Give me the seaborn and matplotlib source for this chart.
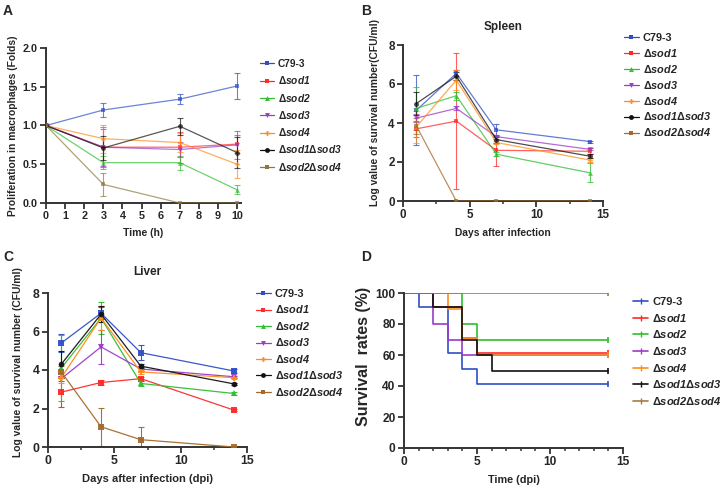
import numpy as np
import matplotlib
matplotlib.use("Agg")
import matplotlib.pyplot as plt
from matplotlib.lines import Line2D
from matplotlib.ticker import MultipleLocator, FormatStrFormatter
import seaborn as sns

sns.set_style("ticks")
plt.rcParams['font.family'] = ['Liberation Sans', 'DejaVu Sans']
plt.rcParams['font.weight'] = 'bold'
plt.rcParams['axes.labelweight'] = 'bold'
plt.rcParams['mathtext.fontset'] = 'custom'
plt.rcParams['mathtext.rm'] = 'Liberation Sans:bold'
plt.rcParams['mathtext.bf'] = 'Liberation Sans:bold:italic'
plt.rcParams['mathtext.it'] = 'Liberation Sans:bold:italic'

# strains
strains = ["C79-3", "sod1", "sod2", "sod3", "sod4", "sod1sod3", "sod2sod4"]
labels = ["C79-3", r"$\Delta\mathbf{sod1}$", r"$\Delta\mathbf{sod2}$", r"$\Delta\mathbf{sod3}$",
          r"$\Delta\mathbf{sod4}$", r"$\Delta\mathbf{sod1}\Delta\mathbf{sod3}$",
          r"$\Delta\mathbf{sod2}\Delta\mathbf{sod4}$"]
colors = ["#2f4fc6", "#ff2a2a", "#2fbf2f", "#9a3bc9", "#ff8c1a", "#111111", "#a56a2a"]
markers = ["s", "s", "^", "v", "P", "o", "s"]

# A: proliferation in macrophages
time_h = [0, 3, 7, 10]
prolif = {
    "C79-3":    [1.0, 1.20, 1.34, 1.51],
    "sod1":     [1.0, 0.72, 0.72, 0.76],
    "sod2":     [1.0, 0.52, 0.52, 0.17],
    "sod3":     [1.0, 0.72, 0.69, 0.75],
    "sod4":     [1.0, 0.83, 0.78, 0.50],
    "sod1sod3": [1.0, 0.71, 0.99, 0.65],
    "sod2sod4": [1.0, 0.24, 0.0, 0.0],
}
prolif_err = {
    "C79-3":    [0, 0.085, 0.06, 0.17],
    "sod1":     [0, 0.26, 0.20, 0.12],
    "sod2":     [0, 0.08, 0.09, 0.06],
    "sod3":     [0, 0.24, 0.10, 0.18],
    "sod4":     [0, 0.18, 0.12, 0.18],
    "sod1sod3": [0, 0.15, 0.11, 0.20],
    "sod2sod4": [0, 0.15, 0.0, 0.0],
}

# B: spleen
days = [1, 4, 7, 14]
spleen = {
    "C79-3":    [4.65, 6.55, 3.65, 3.05],
    "sod1":     [3.70, 4.10, 2.60, 2.55],
    "sod2":     [4.75, 5.40, 2.40, 1.45],
    "sod3":     [4.25, 4.75, 3.30, 2.65],
    "sod4":     [3.80, 6.20, 3.00, 2.10],
    "sod1sod3": [5.00, 6.40, 3.15, 2.30],
    "sod2sod4": [3.85, 0.0, 0.0, 0.0],
}
spleen_err = {
    "C79-3":    [1.80, 0.15, 0.30, 0.05],
    "sod1":     [0.40, 3.50, 0.80, 0.15],
    "sod2":     [1.10, 0.20, 0.10, 0.50],
    "sod3":     [0.20, 0.10, 0.10, 0.05],
    "sod4":     [0.80, 0.50, 0.10, 0.10],
    "sod1sod3": [0.60, 0.20, 0.15, 0.10],
    "sod2sod4": [0.40, 0.0, 0.0, 0.0],
}

# C: liver
liver = {
    "C79-3":    [5.40, 6.95, 4.90, 3.95],
    "sod1":     [2.85, 3.35, 3.55, 1.92],
    "sod2":     [4.10, 6.70, 3.30, 2.78],
    "sod3":     [3.55, 5.20, 4.05, 3.65],
    "sod4":     [3.60, 6.70, 3.90, 3.60],
    "sod1sod3": [4.30, 6.90, 4.20, 3.28],
    "sod2sod4": [3.90, 1.05, 0.38, 0.0],
}
liver_err = {
    "C79-3":    [0.45, 0.30, 0.40, 0.10],
    "sod1":     [0.75, 0.15, 0.10, 0.05],
    "sod2":     [1.70, 0.85, 0.15, 0.10],
    "sod3":     [0.10, 0.90, 0.10, 0.05],
    "sod4":     [0.30, 0.60, 0.10, 0.05],
    "sod1sod3": [0.70, 0.40, 0.10, 0.05],
    "sod2sod4": [0.30, 1.00, 0.65, 0.0],
}

# D: survival (Kaplan-Meier steps)
surv_t = {
    "C79-3":    [0, 1, 3, 4, 5, 14],
    "sod1":     [0, 2, 4, 5, 14],
    "sod2":     [0, 4, 5, 14],
    "sod3":     [0, 2, 3, 4, 14],
    "sod4":     [0, 3, 4, 5, 14],
    "sod1sod3": [0, 2, 4, 5, 6, 14],
    "sod2sod4": [0, 14],
}
surv_p = {
    "C79-3":    [100, 91, 61, 51, 41, 41],
    "sod1":     [100, 91, 71, 61, 61],
    "sod2":     [100, 80, 70, 70],
    "sod3":     [100, 80, 70, 60, 60],
    "sod4":     [100, 90, 71, 60, 60],
    "sod1sod3": [100, 91, 70, 60, 50, 50],
    "sod2sod4": [100, 100],
}

fig = plt.figure(figsize=(7.22, 4.88), dpi=100)
W, H = 722, 488


def add_ax(x0, x1, ytop, ybot):
    return fig.add_axes([x0 / W, 1 - ybot / H, (x1 - x0) / W, (ybot - ytop) / H])


def style(ax, fs):
    for s in ["top", "right"]:
        ax.spines[s].set_visible(False)
    for s in ["left", "bottom"]:
        ax.spines[s].set_linewidth(1.4)
        ax.spines[s].set_color("#333333")
    ax.tick_params(which="major", length=4, width=1.3, labelsize=fs, color="#333333", pad=2)
    ax.tick_params(which="minor", length=2.5, width=1.1, color="#333333")
    for lab in ax.get_xticklabels() + ax.get_yticklabels():
        lab.set_fontweight("bold")


def draw_lines(ax, x, data, err, alpha, colors_use, ms=3.5):
    for i, s in enumerate(strains):
        c = colors_use[i]
        ax.errorbar(x, data[s], yerr=err[s], fmt="none", ecolor=c, elinewidth=0.8,
                    capsize=2, capthick=0.8, alpha=alpha, zorder=2)
        sns.lineplot(x=x, y=data[s], ax=ax, color=c, marker=markers[i], markersize=ms,
                     markeredgewidth=0, linewidth=0.9, alpha=alpha, legend=False, zorder=3)


def add_legend(ax, x, y, colors_use, spacing, fs, handles=None):
    if handles is None:
        handles = [Line2D([], [], color=colors_use[i], marker=markers[i], markersize=3.5,
                          markeredgewidth=0, linewidth=0.9) for i in range(len(strains))]
    ax.legend(handles, labels, loc="upper left", bbox_to_anchor=(x / W, 1 - y / H),
              bbox_transform=fig.transFigure, frameon=False, fontsize=fs,
              handlelength=1.35, handletextpad=0.4, borderpad=0, borderaxespad=0,
              labelspacing=spacing)


# Panel A
axA = add_ax(46, 241, 48, 203)
colorsA = colors[:6] + ["#8c7a3c"]
draw_lines(axA, time_h, prolif, prolif_err, 0.7, colorsA)
axA.set_xlim(0, 10.2)
axA.set_ylim(0, 2.0)
axA.xaxis.set_major_locator(MultipleLocator(1))
axA.yaxis.set_major_locator(MultipleLocator(0.5))
axA.yaxis.set_major_formatter(FormatStrFormatter("%.1f"))
axA.set_xlabel("Time (h)", fontsize=7.6, labelpad=5)
axA.set_ylabel("Proliferation in macrophages (Folds)", fontsize=7.4, labelpad=3)
style(axA, 7.8)
add_legend(axA, 260, 59, colorsA, 0.52, 7.3)

# Panel B
axB = add_ax(403, 603, 45, 201)
draw_lines(axB, days, spleen, spleen_err, 0.75, colors)
axB.set_xlim(0, 15)
axB.set_ylim(0, 8)
axB.xaxis.set_major_locator(MultipleLocator(5))
axB.xaxis.set_minor_locator(MultipleLocator(2.5))
axB.yaxis.set_major_locator(MultipleLocator(2))
axB.set_title("Spleen", fontsize=8.5, fontweight="bold", pad=11)
axB.set_xlabel("Days after infection", fontsize=7.4, labelpad=5)
axB.set_ylabel("Log value of survival number(CFU/ml)", fontsize=7.4, labelpad=6)
axB.yaxis.label.set_y(0.57)
style(axB, 8.4)
add_legend(axB, 624, 33, colors, 0.36, 7.8)

# Panel C
axC = add_ax(48, 247, 293, 447)
draw_lines(axC, days, liver, liver_err, 0.95, colors, ms=4)
axC.set_xlim(0, 15)
axC.set_ylim(0, 8)
axC.xaxis.set_major_locator(MultipleLocator(5))
axC.xaxis.set_minor_locator(MultipleLocator(2.5))
axC.yaxis.set_major_locator(MultipleLocator(2))
axC.set_title("Liver", fontsize=8.5, fontweight="bold", pad=13)
axC.set_xlabel("Days after infection (dpi)", fontsize=8, labelpad=5)
axC.set_ylabel("Log value of survival number (CFU/ml)", fontsize=7.4, labelpad=7)
axC.yaxis.label.set_y(0.55)
style(axC, 8.8)
add_legend(axC, 256, 289, colors, 0.41, 7.8)

# Panel D
axD = add_ax(404, 623, 293, 448)
colorsD = colors[:6] + ["#a57a45"]
for i, s in enumerate(strains):
    sns.lineplot(x=surv_t[s], y=surv_p[s], ax=axD, color=colorsD[i], drawstyle="steps-post",
                 linewidth=1.2, legend=False, estimator=None)
    axD.plot([14], [surv_p[s][-1]], marker="|", color=colorsD[i], markersize=5, mew=1.2)
axD.set_xlim(0, 15)
axD.set_ylim(0, 100)
axD.xaxis.set_major_locator(MultipleLocator(5))
axD.xaxis.set_minor_locator(MultipleLocator(1))
axD.yaxis.set_major_locator(MultipleLocator(20))
axD.set_xlabel("Time (dpi)", fontsize=7.8, labelpad=5)
axD.set_ylabel("Survival  rates (%)", fontsize=11.5, labelpad=3)
axD.yaxis.label.set_y(0.59)
style(axD, 8.6)
handlesD = [Line2D([], [], color=colorsD[i], marker="|", markersize=5, mew=1.0, linewidth=1.2)
            for i in range(len(strains))]
add_legend(axD, 633, 297, colorsD, 0.42, 8.0, handles=handlesD)

# panel letters
for lt, (x, y) in zip("ABCD", [(3, 4), (361, 4), (3, 250), (361, 250)]):
    fig.text(x / W, 1 - y / H, lt, fontsize=10, fontweight="bold", va="top", ha="left")

fig.savefig("out.png", dpi=100)
